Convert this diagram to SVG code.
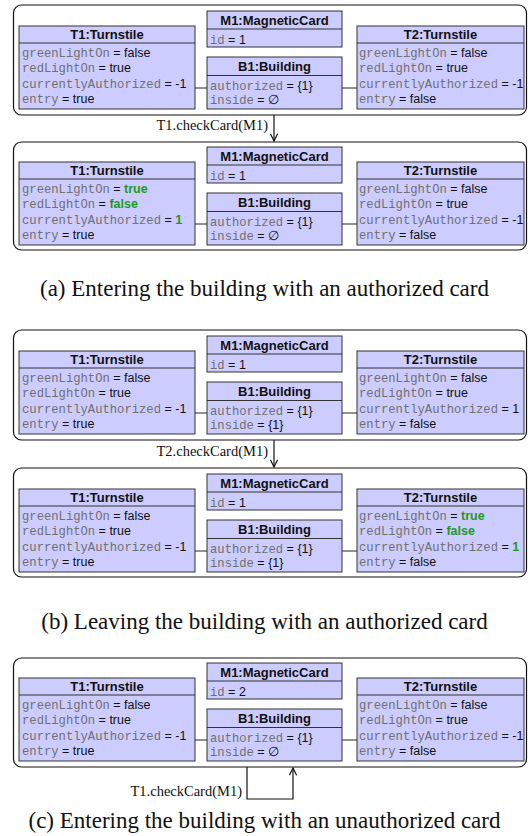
<svg xmlns="http://www.w3.org/2000/svg" width="529" height="836" viewBox="0 0 529 836">
<defs>
<style>
.outer{fill:none;stroke:#111;stroke-width:1.2}
.box{fill:#ccccff;stroke:#333;stroke-width:1}
.sep{stroke:#333;stroke-width:1}
.hd{font-family:"Liberation Sans",Arial,sans-serif;font-weight:bold;font-size:13px;fill:#111;text-anchor:middle}
.r{font-family:"Liberation Sans",Arial,sans-serif;font-size:12.5px;fill:#111}
.m{font-family:"Liberation Mono","Courier New",monospace;font-size:12.2px;fill:#707070}
.g{fill:#1f9a1f;font-weight:bold}
.lnk{stroke:#222;stroke-width:1;fill:none}
.arr{stroke:#111;stroke-width:1.2;fill:none}
.lbl{font-family:"Liberation Serif","Times New Roman",serif;font-size:14.5px;fill:#111;text-anchor:end}
.cap{font-family:"Liberation Serif","Times New Roman",serif;font-size:23px;fill:#111;text-anchor:middle}
</style>
<marker id="ah" viewBox="0 0 10 10" refX="9" refY="5" markerWidth="9" markerHeight="9" markerUnits="userSpaceOnUse" orient="auto">
<path d="M1,1 L9,5 L1,9" fill="none" stroke="#111" stroke-width="1.3"/>
</marker>
</defs>

<!-- Panel a, state 1 -->
<g id="a1" transform="translate(0,5)">
<rect class="outer" x="13.5" y="0" width="513" height="110" rx="8"/>
<g id="a1-T1"><rect class="box" x="19" y="21" width="176" height="83"/><line class="sep" x1="19" y1="38" x2="195" y2="38"/>
<text class="hd" x="107" y="34">T1:Turnstile</text>
<text class="r" x="22" y="52"><tspan class="m">greenLightOn</tspan> = false</text>
<text class="r" x="22" y="67"><tspan class="m">redLightOn</tspan> = true</text>
<text class="r" x="22" y="82.5"><tspan class="m">currentlyAuthorized</tspan> = -1</text>
<text class="r" x="22" y="98"><tspan class="m">entry</tspan> = true</text></g>
<g id="a1-M1"><rect class="box" x="207" y="6" width="135" height="36"/><line class="sep" x1="207" y1="24" x2="342" y2="24"/>
<text class="hd" x="274.5" y="19.5">M1:MagneticCard</text>
<text class="r" x="210" y="38.5"><tspan class="m">id</tspan> = 1</text></g>
<g id="a1-B1"><rect class="box" x="207" y="52" width="135" height="52"/><line class="sep" x1="207" y1="70.5" x2="342" y2="70.5"/>
<text class="hd" x="274.5" y="66">B1:Building</text>
<text class="r" x="210" y="85"><tspan class="m">authorized</tspan> = {1}</text>
<text class="r" x="210" y="98.5"><tspan class="m">inside</tspan> = ∅</text></g>
<g id="a1-T2"><rect class="box" x="357" y="21" width="167" height="83"/><line class="sep" x1="357" y1="38" x2="524" y2="38"/>
<text class="hd" x="440.5" y="34">T2:Turnstile</text>
<text class="r" x="359" y="52"><tspan class="m">greenLightOn</tspan> = false</text>
<text class="r" x="359" y="67"><tspan class="m">redLightOn</tspan> = true</text>
<text class="r" x="359" y="82.5"><tspan class="m">currentlyAuthorized</tspan> = -1</text>
<text class="r" x="359" y="98"><tspan class="m">entry</tspan> = false</text></g>
<g id="a1-links"><line class="lnk" x1="195" y1="83" x2="207" y2="83"/><line class="lnk" x1="342" y1="83" x2="357" y2="83"/></g>
</g>

<!-- Panel a, state 2 -->
<g id="a2" transform="translate(0,142)">
<rect class="outer" x="13.5" y="0" width="513" height="108" rx="8"/>
<g id="a2-T1"><rect class="box" x="19" y="20" width="176" height="83"/><line class="sep" x1="19" y1="37" x2="195" y2="37"/>
<text class="hd" x="107" y="33">T1:Turnstile</text>
<text class="r" x="22" y="51"><tspan class="m">greenLightOn</tspan> = <tspan class="g">true</tspan></text>
<text class="r" x="22" y="66"><tspan class="m">redLightOn</tspan> = <tspan class="g">false</tspan></text>
<text class="r" x="22" y="81.5"><tspan class="m">currentlyAuthorized</tspan> = <tspan class="g">1</tspan></text>
<text class="r" x="22" y="97"><tspan class="m">entry</tspan> = true</text></g>
<g id="a2-M1"><rect class="box" x="207" y="5" width="135" height="36"/><line class="sep" x1="207" y1="23" x2="342" y2="23"/>
<text class="hd" x="274.5" y="18.5">M1:MagneticCard</text>
<text class="r" x="210" y="37.5"><tspan class="m">id</tspan> = 1</text></g>
<g id="a2-B1"><rect class="box" x="207" y="51" width="135" height="52"/><line class="sep" x1="207" y1="69.5" x2="342" y2="69.5"/>
<text class="hd" x="274.5" y="65">B1:Building</text>
<text class="r" x="210" y="84"><tspan class="m">authorized</tspan> = {1}</text>
<text class="r" x="210" y="97.5"><tspan class="m">inside</tspan> = ∅</text></g>
<g id="a2-T2"><rect class="box" x="357" y="20" width="167" height="83"/><line class="sep" x1="357" y1="37" x2="524" y2="37"/>
<text class="hd" x="440.5" y="33">T2:Turnstile</text>
<text class="r" x="359" y="51"><tspan class="m">greenLightOn</tspan> = false</text>
<text class="r" x="359" y="66"><tspan class="m">redLightOn</tspan> = true</text>
<text class="r" x="359" y="81.5"><tspan class="m">currentlyAuthorized</tspan> = -1</text>
<text class="r" x="359" y="97"><tspan class="m">entry</tspan> = false</text></g>
<g id="a2-links"><line class="lnk" x1="195" y1="82" x2="207" y2="82"/><line class="lnk" x1="342" y1="82" x2="357" y2="82"/></g>
</g>

<!-- Panel b, state 1 -->
<g id="b1" transform="translate(0,330)">
<rect class="outer" x="13.5" y="0" width="513" height="110" rx="8"/>
<g id="b1-T1"><rect class="box" x="19" y="21" width="176" height="83"/><line class="sep" x1="19" y1="38" x2="195" y2="38"/>
<text class="hd" x="107" y="34">T1:Turnstile</text>
<text class="r" x="22" y="52"><tspan class="m">greenLightOn</tspan> = false</text>
<text class="r" x="22" y="67"><tspan class="m">redLightOn</tspan> = true</text>
<text class="r" x="22" y="82.5"><tspan class="m">currentlyAuthorized</tspan> = -1</text>
<text class="r" x="22" y="98"><tspan class="m">entry</tspan> = true</text></g>
<g id="b1-M1"><rect class="box" x="207" y="6" width="135" height="36"/><line class="sep" x1="207" y1="24" x2="342" y2="24"/>
<text class="hd" x="274.5" y="19.5">M1:MagneticCard</text>
<text class="r" x="210" y="38.5"><tspan class="m">id</tspan> = 1</text></g>
<g id="b1-B1"><rect class="box" x="207" y="52" width="135" height="52"/><line class="sep" x1="207" y1="70.5" x2="342" y2="70.5"/>
<text class="hd" x="274.5" y="66">B1:Building</text>
<text class="r" x="210" y="85"><tspan class="m">authorized</tspan> = {1}</text>
<text class="r" x="210" y="98.5"><tspan class="m">inside</tspan> = {1}</text></g>
<g id="b1-T2"><rect class="box" x="357" y="21" width="167" height="83"/><line class="sep" x1="357" y1="38" x2="524" y2="38"/>
<text class="hd" x="440.5" y="34">T2:Turnstile</text>
<text class="r" x="359" y="52"><tspan class="m">greenLightOn</tspan> = false</text>
<text class="r" x="359" y="67"><tspan class="m">redLightOn</tspan> = true</text>
<text class="r" x="359" y="82.5"><tspan class="m">currentlyAuthorized</tspan> = 1</text>
<text class="r" x="359" y="98"><tspan class="m">entry</tspan> = false</text></g>
<g id="b1-links"><line class="lnk" x1="195" y1="83" x2="207" y2="83"/><line class="lnk" x1="342" y1="83" x2="357" y2="83"/></g>
</g>

<!-- Panel b, state 2 -->
<g id="b2" transform="translate(0,468)">
<rect class="outer" x="13.5" y="0" width="513" height="109" rx="8"/>
<g id="b2-T1"><rect class="box" x="19" y="21" width="176" height="83"/><line class="sep" x1="19" y1="38" x2="195" y2="38"/>
<text class="hd" x="107" y="34">T1:Turnstile</text>
<text class="r" x="22" y="52"><tspan class="m">greenLightOn</tspan> = false</text>
<text class="r" x="22" y="67"><tspan class="m">redLightOn</tspan> = true</text>
<text class="r" x="22" y="82.5"><tspan class="m">currentlyAuthorized</tspan> = -1</text>
<text class="r" x="22" y="98"><tspan class="m">entry</tspan> = true</text></g>
<g id="b2-M1"><rect class="box" x="207" y="6" width="135" height="36"/><line class="sep" x1="207" y1="24" x2="342" y2="24"/>
<text class="hd" x="274.5" y="19.5">M1:MagneticCard</text>
<text class="r" x="210" y="38.5"><tspan class="m">id</tspan> = 1</text></g>
<g id="b2-B1"><rect class="box" x="207" y="52" width="135" height="52"/><line class="sep" x1="207" y1="70.5" x2="342" y2="70.5"/>
<text class="hd" x="274.5" y="66">B1:Building</text>
<text class="r" x="210" y="85"><tspan class="m">authorized</tspan> = {1}</text>
<text class="r" x="210" y="98.5"><tspan class="m">inside</tspan> = {1}</text></g>
<g id="b2-T2"><rect class="box" x="357" y="21" width="167" height="83"/><line class="sep" x1="357" y1="38" x2="524" y2="38"/>
<text class="hd" x="440.5" y="34">T2:Turnstile</text>
<text class="r" x="359" y="52"><tspan class="m">greenLightOn</tspan> = <tspan class="g">true</tspan></text>
<text class="r" x="359" y="67"><tspan class="m">redLightOn</tspan> = <tspan class="g">false</tspan></text>
<text class="r" x="359" y="82.5"><tspan class="m">currentlyAuthorized</tspan> = <tspan class="g">1</tspan></text>
<text class="r" x="359" y="98"><tspan class="m">entry</tspan> = false</text></g>
<g id="b2-links"><line class="lnk" x1="195" y1="83" x2="207" y2="83"/><line class="lnk" x1="342" y1="83" x2="357" y2="83"/></g>
</g>

<!-- Panel c -->
<g id="c1" transform="translate(0,658)">
<rect class="outer" x="13.5" y="0" width="513" height="109" rx="8"/>
<g id="c1-T1"><rect class="box" x="19" y="20" width="176" height="83"/><line class="sep" x1="19" y1="37" x2="195" y2="37"/>
<text class="hd" x="107" y="33">T1:Turnstile</text>
<text class="r" x="22" y="51"><tspan class="m">greenLightOn</tspan> = false</text>
<text class="r" x="22" y="66"><tspan class="m">redLightOn</tspan> = true</text>
<text class="r" x="22" y="81.5"><tspan class="m">currentlyAuthorized</tspan> = -1</text>
<text class="r" x="22" y="97"><tspan class="m">entry</tspan> = true</text></g>
<g id="c1-M1"><rect class="box" x="207" y="5" width="135" height="36"/><line class="sep" x1="207" y1="23" x2="342" y2="23"/>
<text class="hd" x="274.5" y="18.5">M1:MagneticCard</text>
<text class="r" x="210" y="37.5"><tspan class="m">id</tspan> = 2</text></g>
<g id="c1-B1"><rect class="box" x="207" y="51" width="135" height="52"/><line class="sep" x1="207" y1="69.5" x2="342" y2="69.5"/>
<text class="hd" x="274.5" y="65">B1:Building</text>
<text class="r" x="210" y="84"><tspan class="m">authorized</tspan> = {1}</text>
<text class="r" x="210" y="97.5"><tspan class="m">inside</tspan> = ∅</text></g>
<g id="c1-T2"><rect class="box" x="357" y="20" width="167" height="83"/><line class="sep" x1="357" y1="37" x2="524" y2="37"/>
<text class="hd" x="440.5" y="33">T2:Turnstile</text>
<text class="r" x="359" y="51"><tspan class="m">greenLightOn</tspan> = false</text>
<text class="r" x="359" y="66"><tspan class="m">redLightOn</tspan> = true</text>
<text class="r" x="359" y="81.5"><tspan class="m">currentlyAuthorized</tspan> = -1</text>
<text class="r" x="359" y="97"><tspan class="m">entry</tspan> = false</text></g>
<g id="c1-links"><line class="lnk" x1="195" y1="82" x2="207" y2="82"/><line class="lnk" x1="342" y1="82" x2="357" y2="82"/></g>
</g>

<!-- transitions -->
<g id="connectors">
<line class="arr" x1="274" y1="115" x2="274" y2="141" marker-end="url(#ah)"/>
<text class="lbl" x="268" y="130">T1.checkCard(M1)</text>
<line class="arr" x1="274" y1="440" x2="274" y2="467" marker-end="url(#ah)"/>
<text class="lbl" x="268" y="456">T2.checkCard(M1)</text>
<polyline class="arr" points="247,767 247,799 293,799 293,768" marker-end="url(#ah)"/>
<text class="lbl" x="242" y="796">T1.checkCard(M1)</text>
</g>

<g id="captions">
<text class="cap" x="264.5" y="296">(a) Entering the building with an authorized card</text>
<text class="cap" x="264.5" y="629">(b) Leaving the building with an authorized card</text>
<text class="cap" x="264.5" y="828">(c) Entering the building with an unauthorized card</text>
</g>
</svg>
